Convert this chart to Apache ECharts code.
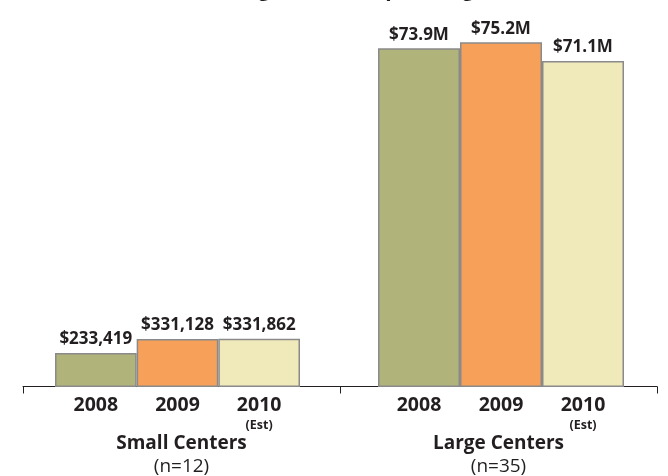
<!DOCTYPE html>
<html>
<head>
<meta charset="utf-8">
<script src="https://cdn.jsdelivr.net/npm/echarts@6/dist/echarts.min.js"></script>
<style>
  html, body { margin: 0; padding: 0; background: #fff; }
  #chart { width: 668px; height: 476px; }
</style>
</head>
<body>
<div id="chart"></div>
<script>
// ---- data ----
const titleText = 'Average Annual Operating Revenue';
const years = ['2008', '2009', '2010'];
const yearNotes = ['', '', '(Est)'];
const groups = ['Small Centers', 'Large Centers'];
const groupNotes = ['(n=12)', '(n=35)'];
const smallValues = [233419, 331128, 331862];      // dollars
const largeValues = [73.9, 75.2, 71.1];            // millions of dollars
const barColors = ['#b0b37a', '#f6a05a', '#f0e9ba'];

// ---- chart ----
const FONT = '"Open Sans", "Noto Sans", sans-serif';
const TOP = 40, H = 347;

function yearLabel(v, i) {
  return yearNotes[i] ? '{y|' + v + '}\n{e|' + yearNotes[i] + '}' : '{y|' + v + '}';
}
const yearAxisLabel = {
  interval: 0,
  margin: 6,
  formatter: yearLabel,
  rich: {
    y: { fontFamily: FONT, fontSize: 19.5, fontWeight: 'bold', color: '#231f20', lineHeight: 24 },
    e: { fontFamily: FONT, fontSize: 12.5, fontWeight: 'bold', color: '#231f20', lineHeight: 16 }
  }
};

function barData(vals) {
  return vals.map((v, i) => ({
    value: v,
    itemStyle: { color: barColors[i], borderColor: '#8a8a8a', borderWidth: 1.5 }
  }));
}
const labelStyle = {
  show: true, position: 'top', distance: 5,
  fontFamily: FONT, fontSize: 17, fontWeight: 'bold', color: '#231f20'
};

const chart = echarts.init(document.getElementById('chart'), null, { renderer: 'canvas' });
chart.setOption({
  animation: false,
  backgroundColor: '#ffffff',
  graphic: [{
    type: 'text', x: 384, y: -20,
    style: { text: titleText, fontFamily: FONT, fontSize: 21, fontWeight: 'bold', fill: '#231f20',
             align: 'center', verticalAlign: 'top' }
  }],
  grid: [
    { left: 55, width: 245, top: TOP, height: H },
    { left: 378, width: 246, top: TOP, height: H },
    { left: 23, width: 634, top: TOP, height: H }
  ],
  xAxis: [
    { type: 'category', gridIndex: 0, data: years, axisLine: { show: false }, axisTick: { show: false }, axisLabel: yearAxisLabel },
    { type: 'category', gridIndex: 1, data: years, axisLine: { show: false }, axisTick: { show: false }, axisLabel: yearAxisLabel },
    {
      type: 'category', gridIndex: 2, data: groups, boundaryGap: true,
      axisLine: { show: true, lineStyle: { color: '#231f20', width: 1 } },
      axisTick: { show: true, length: 7, interval: 0, lineStyle: { color: '#231f20', width: 1 } },
      axisLabel: {
        interval: 0, margin: 46,
        formatter: (v, i) => '{g|' + v + '}\n{n|' + groupNotes[i] + '}',
        rich: {
          g: { fontFamily: FONT, fontSize: 19, fontWeight: 'bold', color: '#231f20', lineHeight: 22 },
          n: { fontFamily: FONT, fontSize: 19, color: '#231f20', lineHeight: 24 }
        }
      }
    }
  ],
  yAxis: [
    { type: 'value', gridIndex: 0, min: 0, max: 2390000, show: false, splitLine: { show: false } },
    { type: 'value', gridIndex: 1, min: 0, max: 75.7, show: false, splitLine: { show: false } },
    { type: 'value', gridIndex: 2, min: 0, max: 1, show: false, splitLine: { show: false } }
  ],
  series: [
    {
      type: 'bar', xAxisIndex: 0, yAxisIndex: 0, barCategoryGap: '0%',
      data: barData(smallValues),
      label: Object.assign({}, labelStyle, { formatter: p => '$' + p.value.toLocaleString('en-US') })
    },
    {
      type: 'bar', xAxisIndex: 1, yAxisIndex: 1, barCategoryGap: '0%',
      data: barData(largeValues),
      label: Object.assign({}, labelStyle, { formatter: p => '$' + p.value.toFixed(1) + 'M' })
    }
  ]
});
</script>
</body>
</html>
